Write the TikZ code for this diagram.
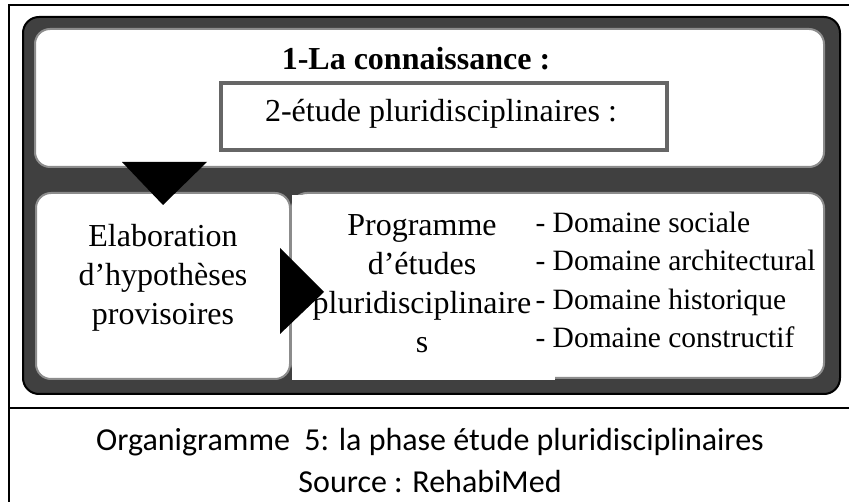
\documentclass[tikz,border=0pt]{standalone}
\usepackage{fontspec}
\setmainfont{Liberation Serif}
\newfontfamily\capfont{Carlito}
\definecolor{frame}{HTML}{404040}
\definecolor{rim}{HTML}{8C8C8C}

\tikzset{
    whitebox/.style={fill=white, draw=rim, line width=2pt, rounded corners=15pt},
    bigtext/.style={font=\fontsize{32}{39}\selectfont, align=center},
}

\begin{document}
\begin{tikzpicture}[x=1pt, y=-1pt]
        \useasboundingbox (0,0) rectangle (849,502);

        % table lines
        \draw[line width=1.2pt] (9,502) -- (9,5) -- (849,5);
        \draw[line width=1.2pt] (9,408) -- (849,408);

        % dark frame
        \draw[fill=frame, line width=2pt, rounded corners=16pt] (23,17) rectangle (840,394);

        % top box
        \draw[whitebox] (35,29) rectangle (824,167);
        \node[anchor=base] (title) at (416,70) {\fontsize{32}{39}\selectfont\bfseries 1-La connaissance :};
        \draw[fill=white, draw=black!60, line width=4.5pt] (221,83) rectangle (667,150);
        \node[anchor=base] (etude) at (441,122) {\fontsize{32}{39}\selectfont 2-étude pluridisciplinaires :};

        % lower boxes
        \draw[whitebox] (36,193) rectangle (290,379);
        \draw[whitebox] (292,193) rectangle (824,378);
        \fill[white] (292,195) rectangle (555,380);

        \node[bigtext] (hypo) at (163,278) {Elaboration\\d’hypothèses\\provisoires};
        \node[bigtext] (prog) at (422,284) {Programme\\d’études\\pluridisciplinaire\\s};
        \node[anchor=west, align=left, font=\fontsize{29.5}{38.5}\selectfont] (dom) at (532,280)
            {- Domaine sociale\\- Domaine architectural\\- Domaine historique\\- Domaine constructif};

        % arrows
        \fill (122,162) -- (207,162) -- (163,205) -- cycle;
        \fill (280,248) -- (324,292) -- (280,334) -- cycle;

        % caption
        \node[anchor=base, font=\capfont\fontsize{32}{39}\selectfont] (cap) at (430,450)
            {Organigramme~ 5: la phase étude pluridisciplinaires};
        \node[anchor=base, font=\capfont\fontsize{32}{39}\selectfont] (src) at (430,492)
            {Source : RehabiMed};
    \end{tikzpicture}
\end{document}
